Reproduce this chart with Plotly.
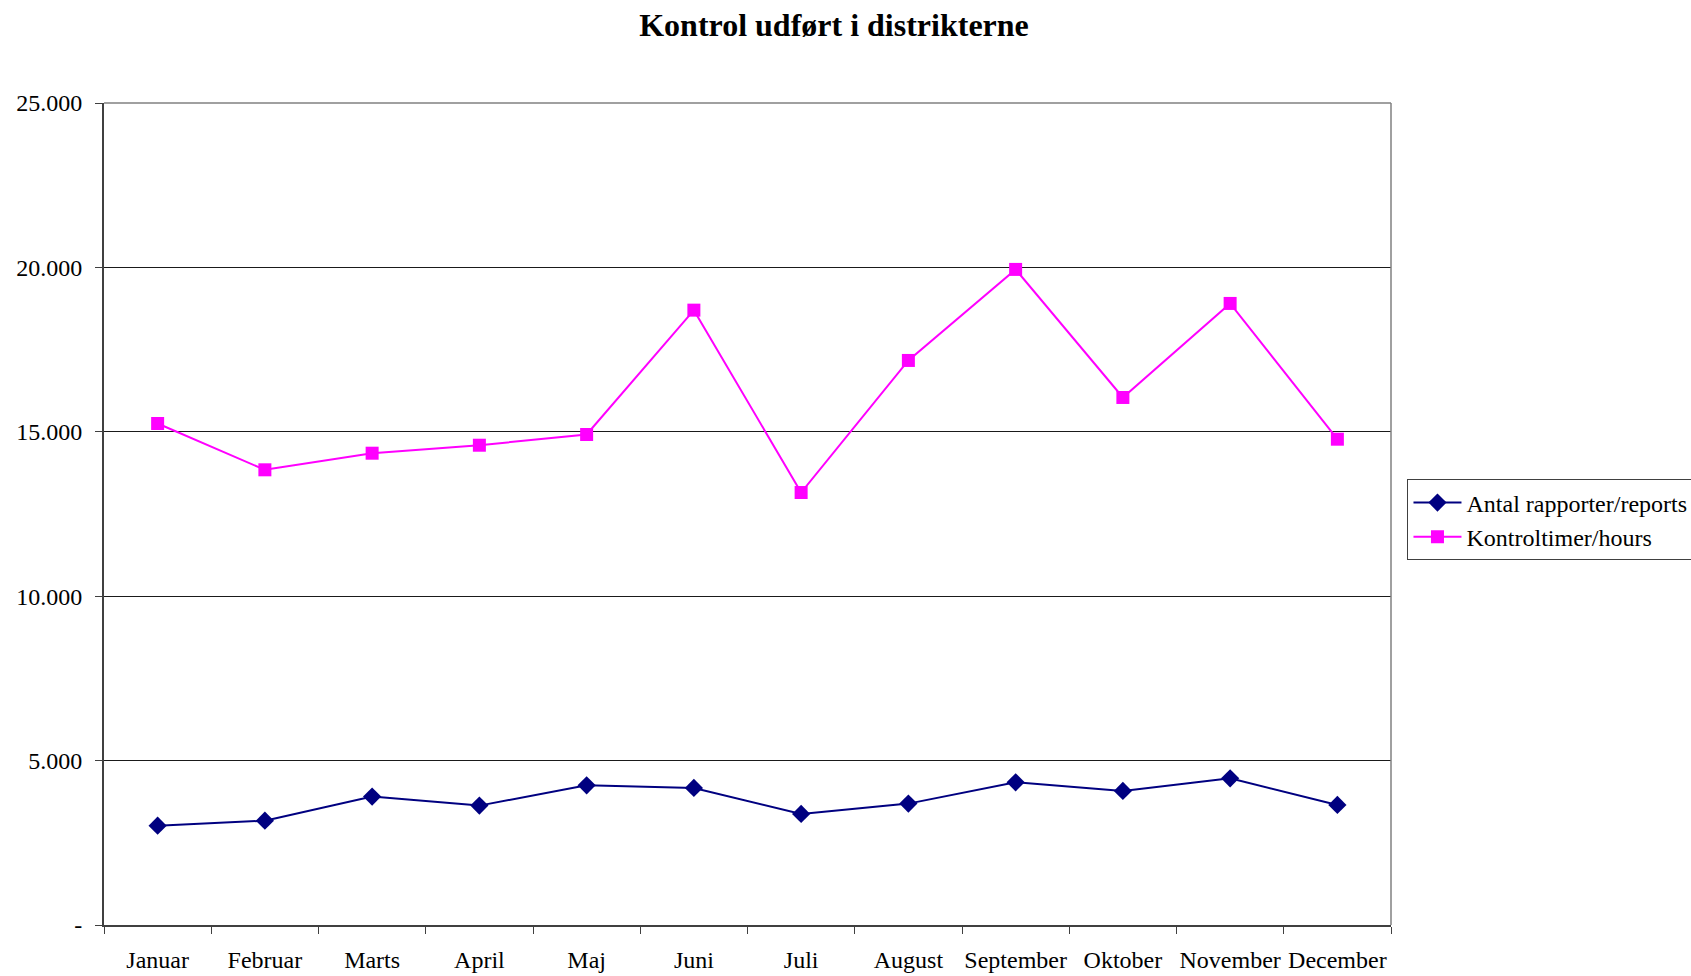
import plotly.graph_objects as go

# data
months = ["Januar", "Februar", "Marts", "April", "Maj", "Juni", "Juli",
          "August", "September", "Oktober", "November", "December"]
reports = [3022, 3174, 3905, 3631, 4249, 4169, 3377, 3692, 4340, 4077, 4462, 3651]
hours = [15253, 13844, 14349, 14592, 14918, 18700, 13153, 17170, 19939, 16044, 18904, 14775]

ytick_vals = [0, 5000, 10000, 15000, 20000, 25000]
ytick_text = ["-", "5.000", "10.000", "15.000", "20.000", "25.000"]

FONT = "Liberation Serif, Times New Roman, serif"

fig = go.Figure()
fig.add_trace(go.Scatter(
    x=months, y=reports, name="Antal rapporter/reports", mode="lines+markers",
    line=dict(color="#000080", width=2),
    marker=dict(symbol="diamond", size=14, color="#000080")))
fig.add_trace(go.Scatter(
    x=months, y=hours, name="Kontroltimer/hours", mode="lines+markers",
    line=dict(color="#FF00FF", width=2),
    marker=dict(symbol="square", size=13, color="#FF00FF")))

fig.update_layout(
    width=1691, height=976,
    paper_bgcolor="white", plot_bgcolor="white",
    margin=dict(l=104, r=300, t=103, b=51, autoexpand=False),
    font=dict(family=FONT, size=24, color="black"),
    title=dict(text="<b>Kontrol udført i distrikterne</b>", x=834 / 1691, xanchor="center",
               y=1 - 25 / 976, yanchor="middle", font=dict(size=32, family=FONT)),
    showlegend=True,
    legend=dict(x=1.0128, y=0.542, xanchor="left", yanchor="top",
                bordercolor="#404040", borderwidth=1, bgcolor="white",
                font=dict(size=24, family=FONT), itemwidth=48,
                tracegroupgap=0),
)

fig.update_xaxes(
    type="category", range=[-0.5, 11.5], tickson="boundaries", ticks="outside", ticklen=7,
    tickcolor="#404040", showline=True, linecolor="#404040", linewidth=2,
    mirror=False, showgrid=False, ticklabelstandoff=12, automargin=False,
    tickangle=0, tickfont=dict(size=24, family=FONT))
fig.update_yaxes(
    range=[0, 25000], tickvals=ytick_vals, ticktext=ytick_text,
    ticks="outside", ticklen=7, tickcolor="#404040",
    showline=True, linecolor="#404040", linewidth=2,
    showgrid=True, gridcolor="#1a1a1a", gridwidth=1, zeroline=False,
    ticklabelstandoff=8, automargin=False, tickfont=dict(size=24, family=FONT))

# right and top border of the plot area
fig.add_shape(type="line", xref="paper", yref="paper", x0=1, x1=1, y0=0, y1=1,
              line=dict(color="#808080", width=1.5))
fig.add_shape(type="line", xref="paper", yref="paper", x0=0, x1=1, y0=1, y1=1,
              line=dict(color="#808080", width=1.5))

# drop the browser's default body margin so the figure sits at the page corner
fig.write_html("out.html", config={"displayModeBar": False},
               post_script="document.body.style.margin='0';")
